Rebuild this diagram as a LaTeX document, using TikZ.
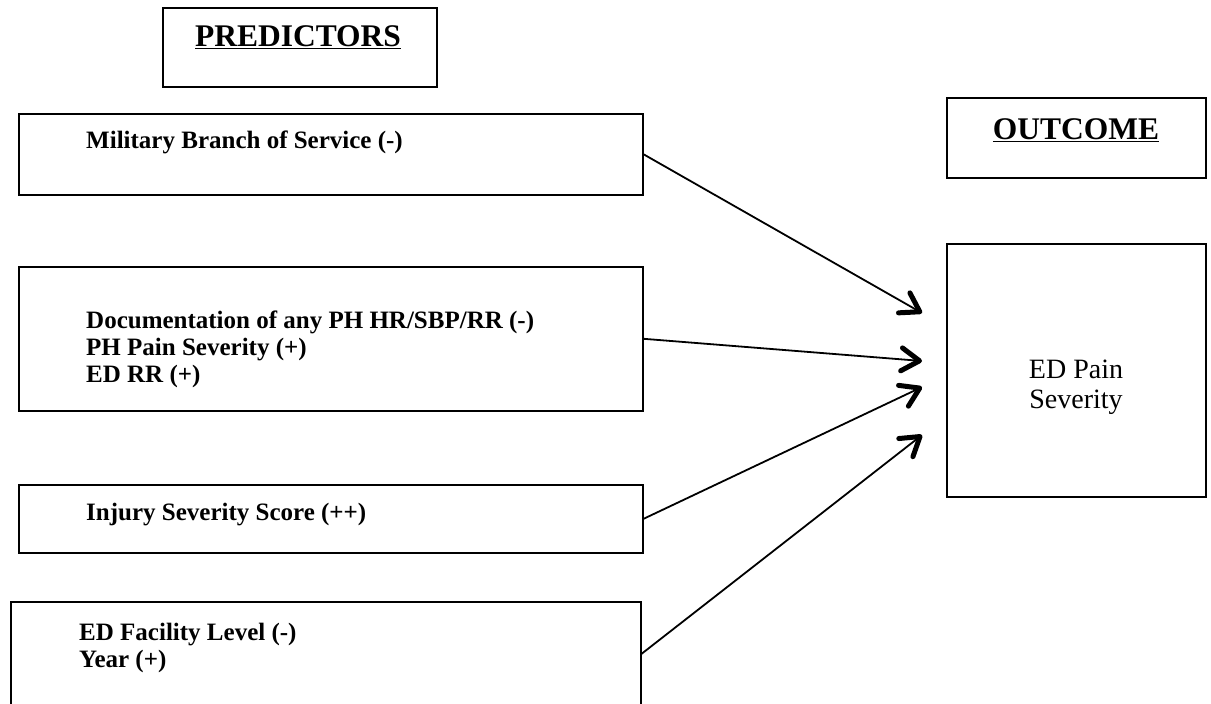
\documentclass[tikz,border=0pt]{standalone}
\usepackage{fontspec}
\setmainfont{Liberation Serif}
\usetikzlibrary{arrows.meta}
\begin{document}
\begin{tikzpicture}[x=1pt,y=-1pt,
  box/.style={draw, line width=1.6pt, inner sep=0pt, anchor=north west},
  item/.style={anchor=base west, inner sep=0pt, font=\bfseries\fontsize{25}{27}\selectfont},
  head/.style={anchor=base, inner sep=0pt, font=\bfseries\fontsize{31.5}{34}\selectfont},
  plain/.style={anchor=base, inner sep=0pt, font=\fontsize{28}{32}\selectfont},
  link/.style={line width=1.8pt, -{Straight Barb[length=18pt,width=23pt,line width=5pt,round]}}
]
\useasboundingbox (0,0) rectangle (1211,704);

% headings
\node[box, minimum width=274pt, minimum height=79pt] (predbox) at (162,7) {};
\node[head] (predtxt) at (298,46) {\underline{PREDICTORS}};
\node[box, minimum width=259pt, minimum height=80pt] (outbox) at (946,97) {};
\node[head] (outtxt) at (1076,139) {\underline{OUTCOME}};

% predictor boxes
\node[box, minimum width=624pt, minimum height=81pt] (mil) at (18,113) {};
\node[item] (miltxt) at (86,148) {Military Branch of Service (-)};

\node[box, minimum width=624pt, minimum height=144pt] (doc) at (18,266) {};
\node[item] (doc1) at (86,328) {Documentation of any PH HR/SBP/RR (-)};
\node[item] (doc2) at (86,355) {PH Pain Severity (+)};
\node[item] (doc3) at (86,382) {ED RR (+)};

\node[box, minimum width=624pt, minimum height=68pt] (inj) at (18,484) {};
\node[item] (injtxt) at (86,520) {Injury Severity Score (++)};

\node[box, minimum width=630pt, minimum height=104pt] (fac) at (10,601) {};
\node[item] (fac1) at (79,640) {ED Facility Level (-)};
\node[item] (fac2) at (79,667) {Year (+)};

% outcome box
\node[box, minimum width=259pt, minimum height=253pt] (pain) at (946,243) {};
\node[plain] (pain1) at (1076,378) {ED Pain};
\node[plain] (pain2) at (1076,408) {Severity};

% arrow tips in front of the outcome box
\coordinate (t1) at (922,313);
\coordinate (t2) at (922,361);
\coordinate (t3) at (922,387);
\coordinate (t4) at (922,435);

\draw[link] (mil.east) -- (t1);
\draw[link] (doc.east) -- (t2);
\draw[link] (inj.east) -- (t3);
\draw[link] (fac.east) -- (t4);
\end{tikzpicture}
\end{document}
